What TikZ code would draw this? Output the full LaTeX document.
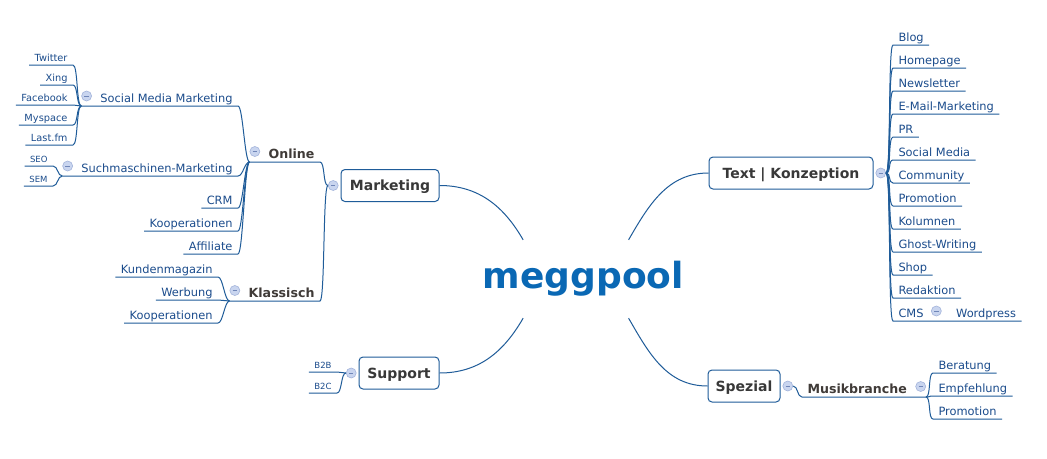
\documentclass[tikz,border=0pt]{standalone}
\usepackage{fontspec}
\setmainfont{DejaVu Sans}
\usepackage{tikz}
\usetikzlibrary{positioning}
\definecolor{wireblue}{HTML}{1F5C99}
\definecolor{leafblue}{HTML}{1B4C8C}
\definecolor{subgray}{HTML}{403B38}
\definecolor{topicgray}{HTML}{383838}
\definecolor{rootblue}{HTML}{0A68B4}
\definecolor{foldfill}{HTML}{C9D5EF}
\definecolor{folddraw}{HTML}{A3B4DB}
\definecolor{foldmark}{HTML}{7086B8}
\tikzset{
  root/.style  = {font=\fontsize{36}{40}\selectfont\bfseries, text=rootblue, inner sep=0pt,
                  minimum width=210pt, minimum height=78pt},
  topic/.style = {rectangle, rounded corners=4pt, draw=wireblue, fill=white, line width=1pt,
                  font=\fontsize{14}{16}\selectfont\bfseries, text=topicgray, minimum height=32pt,
                  text height=11pt, text depth=1pt},
  leaf/.style  = {font=\fontsize{11.4}{13}\selectfont, text=leafblue, inner xsep=5.5pt, inner ysep=1.5pt,
                  outer sep=0pt, text height=8.5pt, text depth=2.5pt},
  tiny/.style  = {leaf, font=\fontsize{9.8}{11}\selectfont},
  micro/.style = {leaf, font=\fontsize{8.5}{10}\selectfont},
  sub/.style   = {leaf, font=\fontsize{12.6}{14}\selectfont\bfseries, text=subgray, text height=9.5pt},
  fold/.style  = {circle, minimum size=10pt, inner sep=0pt, fill=foldfill, draw=folddraw, line width=0.6pt,
                  path picture={\draw[foldmark, line width=0.7pt] ([xshift=2.8pt]path picture bounding box.west)
                  -- ([xshift=-2.8pt]path picture bounding box.east);}},
  ufold/.style = {fold, yshift=3pt},
  wire/.style  = {draw=wireblue, line width=1pt},
  twig/.style  = {to path={.. controls +(#1,0) and +(-#1,0) .. (\tikztotarget) \tikztonodes}},
  twig/.default = 5,
}
\begin{document}
\begin{tikzpicture}[x=1pt, y=1pt]
  \useasboundingbox[fill=white] (0,0) rectangle (1047,-458);
  \node[root] (mp) at (583.5,-279) {meggpool};

  \node[topic, minimum width=98pt] (mk) at (390,-185.5) {Marketing};
  \node[fold, left=2pt of mk.west] (mkf) {};
  \node[topic, minimum width=80pt] (su) at (399,-373) {Support};
  \node[fold, left=2pt of su.west] (suf) {};
  \node[topic, minimum width=164pt] (tk) at (791,-173) {Text | Konzeption};
  \node[fold, right=2pt of tk.east] (tkf) {};
  \node[topic, minimum width=72pt] (sp) at (744,-386) {Spezial};
  \node[fold, right=2pt of sp.east] (spf) {};
  \coordinate (mkj) at (mkf.west);
  \coordinate (suj) at (suf.west);
  \coordinate (tkj) at (tkf.east);
  \coordinate (spj) at (spf.east);

  \node[sub, anchor=south east] (on) at (320,-162) {Online};
  \node[ufold, left=3pt of on.west] (onf) {};
  \coordinate (onj) at (onf.west |- on.south);
  \node[sub, anchor=south east] (kl) at (320,-301) {Klassisch};
  \node[ufold, left=3pt of kl.west] (klf) {};
  \coordinate (klj) at (klf.west |- kl.south);

  \node[leaf, anchor=south east] (smm) at (238,-106) {Social Media Marketing};
  \node[ufold, left=3pt of smm.west] (smmf) {};
  \coordinate (smmj) at (smmf.west |- smm.south);
  \node[tiny, anchor=south east] (twi) at (73,-65) {Twitter};
  \node[tiny, below=6pt of twi.south east, anchor=north east] (xin) {Xing};
  \node[tiny, below=6pt of xin.south east, anchor=north east] (fac) {Facebook};
  \node[tiny, below=6pt of fac.south east, anchor=north east] (mys) {Myspace};
  \node[tiny, below=6pt of mys.south east, anchor=north east] (las) {Last.fm};

  \node[leaf, anchor=south east] (sm) at (238,-176) {Suchmaschinen-Marketing};
  \node[ufold, left=3pt of sm.west] (smf) {};
  \coordinate (smj) at (smf.west |- sm.south);
  \node[micro, anchor=south east] (seo) at (53,-166) {SEO};
  \node[micro, below=6pt of seo.south east, anchor=north east] (sem) {SEM};

  \node[leaf, anchor=south east] (crm) at (238,-208) {CRM};
  \node[leaf, below=9pt of crm.south east, anchor=north east] (koo1) {Kooperationen};
  \node[leaf, below=9pt of koo1.south east, anchor=north east] (aff) {Affiliate};

  \node[leaf, anchor=south east] (kun) at (218,-277) {Kundenmagazin};
  \node[leaf, below=9pt of kun.south east, anchor=north east] (wer) {Werbung};
  \node[leaf, below=9pt of wer.south east, anchor=north east] (koo2) {Kooperationen};

  \node[micro, anchor=south east] (b2b) at (337,-372) {B2B};
  \node[micro, below=7pt of b2b.south east, anchor=north east] (b2c) {B2C};

  \node[leaf, anchor=south west] (blog) at (893,-45) {Blog};
  \node[leaf, below=9pt of blog.south west, anchor=north west] (home) {Homepage};
  \node[leaf, below=9pt of home.south west, anchor=north west] (news) {Newsletter};
  \node[leaf, below=9pt of news.south west, anchor=north west] (mail) {E-Mail-Marketing};
  \node[leaf, below=9pt of mail.south west, anchor=north west] (pr) {PR};
  \node[leaf, below=9pt of pr.south west, anchor=north west] (soc) {Social Media};
  \node[leaf, below=9pt of soc.south west, anchor=north west] (com) {Community};
  \node[leaf, below=9pt of com.south west, anchor=north west] (pro1) {Promotion};
  \node[leaf, below=9pt of pro1.south west, anchor=north west] (kol) {Kolumnen};
  \node[leaf, below=9pt of kol.south west, anchor=north west] (gho) {Ghost-Writing};
  \node[leaf, below=9pt of gho.south west, anchor=north west] (shop) {Shop};
  \node[leaf, below=9pt of shop.south west, anchor=north west] (red) {Redaktion};
  \node[leaf, below=9pt of red.south west, anchor=north west] (cms) {CMS};
  \node[ufold, right=2pt of cms.east] (cmsf) {};
  \coordinate (cmsj) at (cmsf.east |- cms.south);
  \node[leaf, right=9pt of cmsj, anchor=south west] (wp) {Wordpress};

  \node[sub, anchor=south west] (mb) at (802,-397) {Musikbranche};
  \node[ufold, right=3pt of mb.east] (mbf) {};
  \coordinate (mbj) at (mbf.east |- mb.south);
  \node[leaf, anchor=south west] (ber) at (933,-373) {Beratung};
  \node[leaf, below=9pt of ber.south west, anchor=north west] (emp) {Empfehlung};
  \node[leaf, below=9pt of emp.south west, anchor=north west] (pro2) {Promotion};

  \draw[wire] (mk.east) to[out=0, in=120] (mp.147);
  \draw[wire] (su.east) to[out=0, in=240] (mp.213);
  \draw[wire] (tk.west) to[out=180, in=60] (mp.41);
  \draw[wire] (sp.west) to[out=180, in=300] (mp.319);

  \draw[wire] (onj) -- (on.south east) to[twig] (mkj);
  \draw[wire] (klj) -- (kl.south east) to[twig] (mkj);
  \draw[wire] (smmj) -- (smm.south east) to[twig] (onj);
  \draw[wire] (smj) -- (sm.south east) to[twig] (onj);
  \draw[wire] (crm.south west) -- (crm.south east) to[twig] (onj);
  \draw[wire] (koo1.south west) -- (koo1.south east) to[twig] (onj);
  \draw[wire] (aff.south west) -- (aff.south east) to[twig] (onj);
  \draw[wire] (twi.south west) -- (twi.south east) to[twig] (smmj);
  \draw[wire] (xin.south west) -- (xin.south east) to[twig] (smmj);
  \draw[wire] (fac.south west) -- (fac.south east) to[twig] (smmj);
  \draw[wire] (mys.south west) -- (mys.south east) to[twig] (smmj);
  \draw[wire] (las.south west) -- (las.south east) to[twig] (smmj);
  \draw[wire] (seo.south west) -- (seo.south east) to[twig] (smj);
  \draw[wire] (sem.south west) -- (sem.south east) to[twig] (smj);
  \draw[wire] (kun.south west) -- (kun.south east) to[twig] (klj);
  \draw[wire] (wer.south west) -- (wer.south east) to[twig] (klj);
  \draw[wire] (koo2.south west) -- (koo2.south east) to[twig] (klj);
  \draw[wire] (b2b.south west) -- (b2b.south east) to[twig] (suj);
  \draw[wire] (b2c.south west) -- (b2c.south east) to[twig] (suj);

  \draw[wire] (tkj) to[twig] (blog.south west) -- (blog.south east);
  \draw[wire] (tkj) to[twig] (home.south west) -- (home.south east);
  \draw[wire] (tkj) to[twig] (news.south west) -- (news.south east);
  \draw[wire] (tkj) to[twig] (mail.south west) -- (mail.south east);
  \draw[wire] (tkj) to[twig] (pr.south west) -- (pr.south east);
  \draw[wire] (tkj) to[twig] (soc.south west) -- (soc.south east);
  \draw[wire] (tkj) to[twig] (com.south west) -- (com.south east);
  \draw[wire] (tkj) to[twig] (pro1.south west) -- (pro1.south east);
  \draw[wire] (tkj) to[twig] (kol.south west) -- (kol.south east);
  \draw[wire] (tkj) to[twig] (gho.south west) -- (gho.south east);
  \draw[wire] (tkj) to[twig] (shop.south west) -- (shop.south east);
  \draw[wire] (tkj) to[twig] (red.south west) -- (red.south east);
  \draw[wire] (tkj) to[twig] (cms.south west) -- (cmsj) -- (wp.south east);
  \draw[wire] (spj) to[twig] (mb.south west) -- (mbj);
  \draw[wire] (mbj) to[twig] (ber.south west) -- (ber.south east);
  \draw[wire] (mbj) to[twig] (emp.south west) -- (emp.south east);
  \draw[wire] (mbj) to[twig] (pro2.south west) -- (pro2.south east);
\end{tikzpicture}
\end{document}
